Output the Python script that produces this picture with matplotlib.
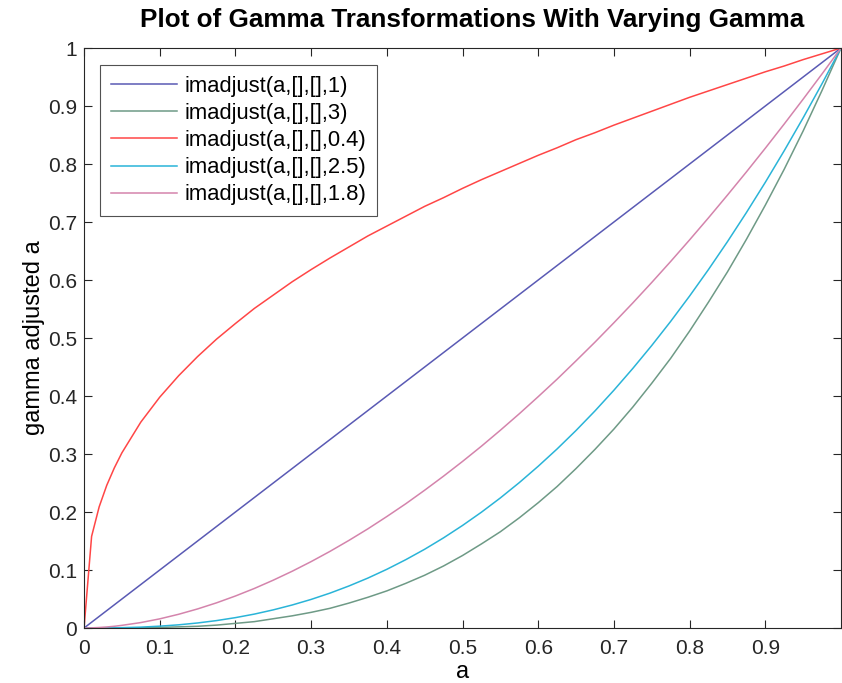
import matplotlib
matplotlib.use("Agg")
import matplotlib.pyplot as plt
import numpy as np

plt.rcParams['font.family'] = ['Liberation Sans', 'DejaVu Sans']

# values
a = [0, 0.01, 0.02, 0.03, 0.04, 0.05, 0.075, 0.1, 0.125, 0.15, 0.175, 0.2, 0.225,
     0.25, 0.275, 0.3, 0.325, 0.35, 0.375, 0.4, 0.425, 0.45, 0.475, 0.5, 0.525,
     0.55, 0.575, 0.6, 0.625, 0.65, 0.675, 0.7, 0.725, 0.75, 0.775, 0.8, 0.825,
     0.85, 0.875, 0.9, 0.925, 0.95, 0.975, 1.0]
g1 = [0, 0.01, 0.02, 0.03, 0.04, 0.05, 0.075, 0.1, 0.125, 0.15, 0.175, 0.2, 0.225,
      0.25, 0.275, 0.3, 0.325, 0.35, 0.375, 0.4, 0.425, 0.45, 0.475, 0.5, 0.525,
      0.55, 0.575, 0.6, 0.625, 0.65, 0.675, 0.7, 0.725, 0.75, 0.775, 0.8, 0.825,
      0.85, 0.875, 0.9, 0.925, 0.95, 0.975, 1.0]
g3 = [0, 0, 0, 0, 0.0001, 0.0001, 0.0004, 0.001, 0.002, 0.003, 0.005, 0.008, 0.011,
      0.016, 0.021, 0.027, 0.034, 0.043, 0.053, 0.064, 0.077, 0.091, 0.107, 0.125, 0.145,
      0.166, 0.190, 0.216, 0.244, 0.275, 0.308, 0.343, 0.381, 0.422, 0.465, 0.512, 0.562,
      0.614, 0.670, 0.729, 0.791, 0.857, 0.927, 1.0]
g04 = [0, 0.158, 0.209, 0.246, 0.276, 0.302, 0.355, 0.398, 0.435, 0.468, 0.498, 0.525, 0.551,
       0.574, 0.597, 0.618, 0.638, 0.657, 0.676, 0.693, 0.710, 0.727, 0.742, 0.758, 0.773,
       0.787, 0.801, 0.815, 0.828, 0.842, 0.854, 0.867, 0.879, 0.891, 0.903, 0.915, 0.926,
       0.937, 0.948, 0.959, 0.969, 0.980, 0.990, 1.0]
g25 = [0, 0, 0.0001, 0.0002, 0.0003, 0.0006, 0.0015, 0.0032, 0.0055, 0.0087, 0.0128, 0.0179, 0.0240,
       0.0313, 0.0397, 0.0493, 0.0602, 0.0725, 0.0861, 0.1012, 0.1178, 0.1358, 0.1555, 0.1768, 0.1997,
       0.2243, 0.2507, 0.2789, 0.3088, 0.3406, 0.3743, 0.4100, 0.4476, 0.4871, 0.5287, 0.5724, 0.6182,
       0.6661, 0.7162, 0.7684, 0.8229, 0.8796, 0.9386, 1.0]
g18 = [0, 0.0003, 0.0009, 0.0018, 0.0030, 0.0046, 0.0094, 0.0158, 0.0237, 0.0329, 0.0434, 0.0552, 0.0682,
       0.0825, 0.0979, 0.1145, 0.1322, 0.1511, 0.1710, 0.1922, 0.2142, 0.2376, 0.2619, 0.2872, 0.3135,
       0.3410, 0.3694, 0.3989, 0.4291, 0.4607, 0.4929, 0.5263, 0.5605, 0.5958, 0.6320, 0.6692, 0.7073,
       0.7464, 0.7863, 0.8272, 0.8690, 0.9118, 0.9554, 1.0]

series = [g1, g3, g04, g25, g18]
labels = ['imadjust(a,[],[],1)', 'imadjust(a,[],[],3)', 'imadjust(a,[],[],0.4)',
          'imadjust(a,[],[],2.5)', 'imadjust(a,[],[],1.8)']
colors = ['#5a5ab4', '#6e9a86', '#ff4646', '#2ab4d8', '#d484ac']

fig = plt.figure(figsize=(8.42, 6.83), dpi=100)
ax = fig.add_axes([0.0998, 0.0805, 0.8990, 0.8492])

for y, lab, c in zip(series, labels, colors):
    ax.plot(a, y, color=c, lw=1.1, label=lab)

ax.set_xlim(0, 1)
ax.set_ylim(0, 1)
ax.set_xticks(np.arange(0, 1.0, 0.1))
ax.set_xticklabels(['0', '0.1', '0.2', '0.3', '0.4', '0.5', '0.6', '0.7', '0.8', '0.9'])
ax.set_yticks(np.arange(0, 1.01, 0.1))
ax.set_yticklabels(['0', '0.1', '0.2', '0.3', '0.4', '0.5', '0.6', '0.7', '0.8', '0.9', '1'])
ax.tick_params(direction='in', top=True, right=True, length=6, width=0.8,
               labelsize=15, colors='#262626', pad=5)
ax.tick_params(axis='x', pad=8)
for s in ax.spines.values():
    s.set_color('#262626')
    s.set_linewidth(0.8)

ax.set_xlabel('a', fontsize=17, labelpad=2)
ax.set_ylabel('gamma adjusted a', fontsize=17, labelpad=2)
ax.set_title('Plot of Gamma Transformations With Varying Gamma', fontsize=18.8,
             fontweight='bold', pad=15, x=0.513)

leg = ax.legend(loc='upper left', fontsize=15.8, handlelength=3.0, handletextpad=0.35,
                frameon=True, fancybox=False, edgecolor='#262626', borderpad=0.5,
                labelspacing=0.28, borderaxespad=0, bbox_to_anchor=(0.021, 0.971))
leg.get_frame().set_linewidth(0.8)

fig.savefig('out.png', dpi=100)
